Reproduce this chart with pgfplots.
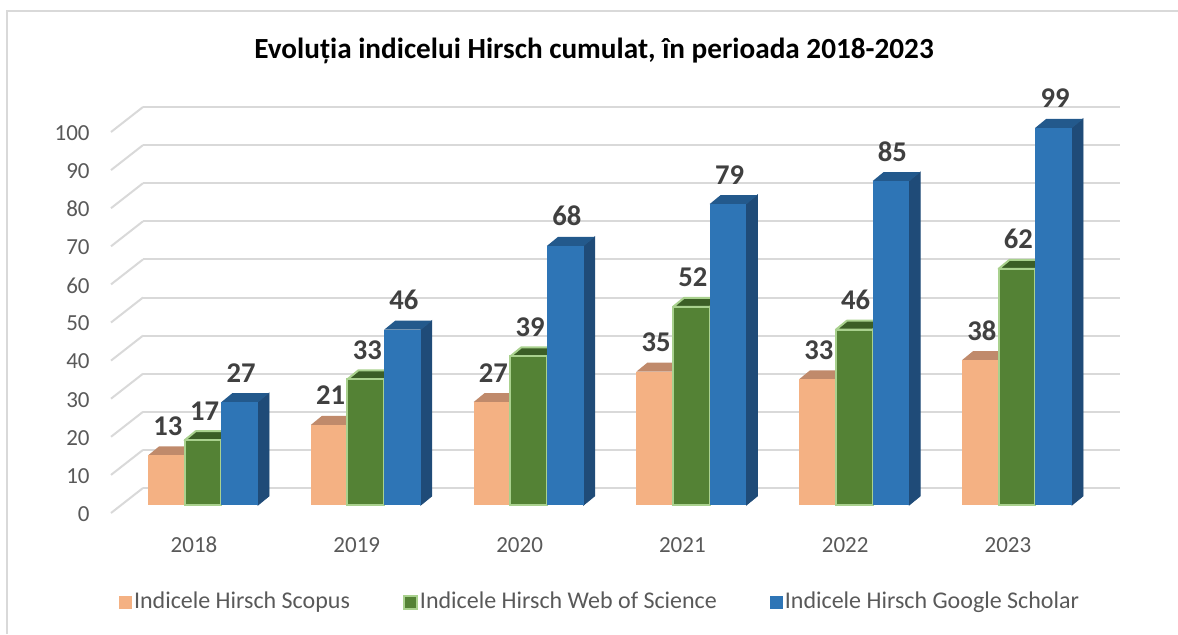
\documentclass[border=0pt]{standalone}
\usepackage{fontspec}
\setmainfont{Carlito}
\usepackage{pgfplots}
\pgfplotsset{compat=1.18}

\definecolor{orfront}{HTML}{F4B183}
\definecolor{ortop}{HTML}{C08A6B}
\definecolor{orside}{HTML}{B07A5C}
\definecolor{grfront}{HTML}{548235}
\definecolor{grtop}{HTML}{3B5E26}
\definecolor{grside}{HTML}{34521F}
\definecolor{grborder}{HTML}{A9D18E}
\definecolor{blfront}{HTML}{2E75B6}
\definecolor{bltop}{HTML}{23598C}
\definecolor{blside}{HTML}{1F4B78}
\definecolor{gridc}{HTML}{D9D9D9}
\definecolor{tickc}{HTML}{595959}
\definecolor{labc}{HTML}{404040}

\pgfdeclareplotmark{nothing}{}

\pgfplotsset{
  bar3d/.style n args={4}{
    only marks, mark=nothing, scatter,
    visualization depends on={rawy \as \val},
    scatter/@pre marker code/.code={%
      \pgfmathsetmacro\hb{-8.5-\val*1.905}%
      \pgfmathsetmacro\hs{\hb+4.5}%
      \fill[#3] (9.175pt,-8.5pt) -- (14.675pt,-4pt) -- (14.675pt,\hs pt) -- (9.175pt,\hb pt) -- cycle;
      \path[fill=#2,#4,line join=round] (-9.175pt,-8.5pt) -- (9.175pt,-8.5pt) -- (14.675pt,-4pt) -- (-3.675pt,-4pt) -- cycle;
      \path[fill=#1,#4] (-9.175pt,\hb pt) rectangle (9.175pt,-8.5pt);
    },
    scatter/@post marker code/.code={},
    legend image code/.code={\path[fill=#1,#4] (0pt,-3.25pt) rectangle (6.5pt,3.25pt);},
  },
  label3d/.style={
    only marks, mark=nothing, scatter, forget plot,
    visualization depends on={rawy \as \val},
    scatter/@pre marker code/.code={%
      \pgfmathtruncatemacro\vv{round(\val)}%
      \node[anchor=base, font=\bfseries\fontsize{14.3}{17}\selectfont, text=labc, inner sep=0pt] at (0.75pt,1.5pt) {\vv};
    },
    scatter/@post marker code/.code={},
  },
}

\begin{document}
\begin{tikzpicture}
\useasboundingbox (0pt,0pt) rectangle (589pt,317pt);
\draw[gridc, line width=1pt] (3.5pt,0pt) -- (3.5pt,311.5pt) -- (589pt,311.5pt);
\node[anchor=base, font=\bfseries\fontsize{14.6}{17}\selectfont] at (297pt,288pt) {Evoluția indicelui Hirsch cumulat, în perioada 2018-2023};
\begin{axis}[
  at={(71.5pt,73pt)}, anchor=south west,
  scale only axis, width=488.5pt, height=190.5pt,
  xmin=-0.3686, xmax=5.633, ymin=0, ymax=100,
  clip=false,
  axis line style={draw=none},
  major tick length=0pt,
  ytick={0,10,20,30,40,50,60,70,80,90,100},
  xtick={0,1,2,3,4,5},
  xticklabels={2018,2019,2020,2021,2022,2023},
  ymajorgrids, grid style={gridc, line width=1pt},
  /pgf/number format/assume math mode=true,
  ticklabel style={font=\fontsize{11.5}{14}\selectfont, text=tickc, inner sep=0pt},
  yticklabel style={anchor=east, xshift=-26.5pt, yshift=-13pt},
  xticklabel style={anchor=center, yshift=-28.5pt, xshift=-4.5pt},
  legend columns=3,
  legend style={at={(axis description cs:0.4678,-0.2992)}, anchor=center, draw=none, fill=none,
    font=\fontsize{12}{14}\selectfont, text=tickc, nodes={inner sep=1pt},
    /tikz/every even column/.append style={column sep=25.5pt}},
]
\pgfplotsinvokeforeach{0,10,20,30,40,50,60,70,80,90,100}{
  \draw[gridc, line width=1pt] (axis cs:-0.3686,#1) -- ++(-16pt,-12.5pt);
}
\addplot[bar3d={orfront}{ortop}{orside}{draw=none}] coordinates {(-0.2254,13) (0.7746,21) (1.7746,27) (2.7746,35) (3.7746,33) (4.7746,38)};
\addlegendentry{Indicele Hirsch Scopus}
\addplot[bar3d={grfront}{grtop}{grside}{draw=grborder,line width=1pt}] coordinates {(0,17) (1,33) (2,39) (3,52) (4,46) (5,62)};
\addlegendentry{Indicele Hirsch Web of Science}
\addplot[bar3d={blfront}{bltop}{blside}{draw=none}] coordinates {(0.2254,27) (1.2254,46) (2.2254,68) (3.2254,79) (4.2254,85) (5.2254,99)};
\addlegendentry{Indicele Hirsch Google Scholar}
\addplot[label3d] coordinates {(-0.2254,13) (0.7746,21) (1.7746,27) (2.7746,35) (3.7746,33) (4.7746,38)};
\addplot[label3d] coordinates {(0,17) (1,33) (2,39) (3,52) (4,46) (5,62)};
\addplot[label3d] coordinates {(0.2254,27) (1.2254,46) (2.2254,68) (3.2254,79) (4.2254,85) (5.2254,99)};
\end{axis}
\end{tikzpicture}
\end{document}
